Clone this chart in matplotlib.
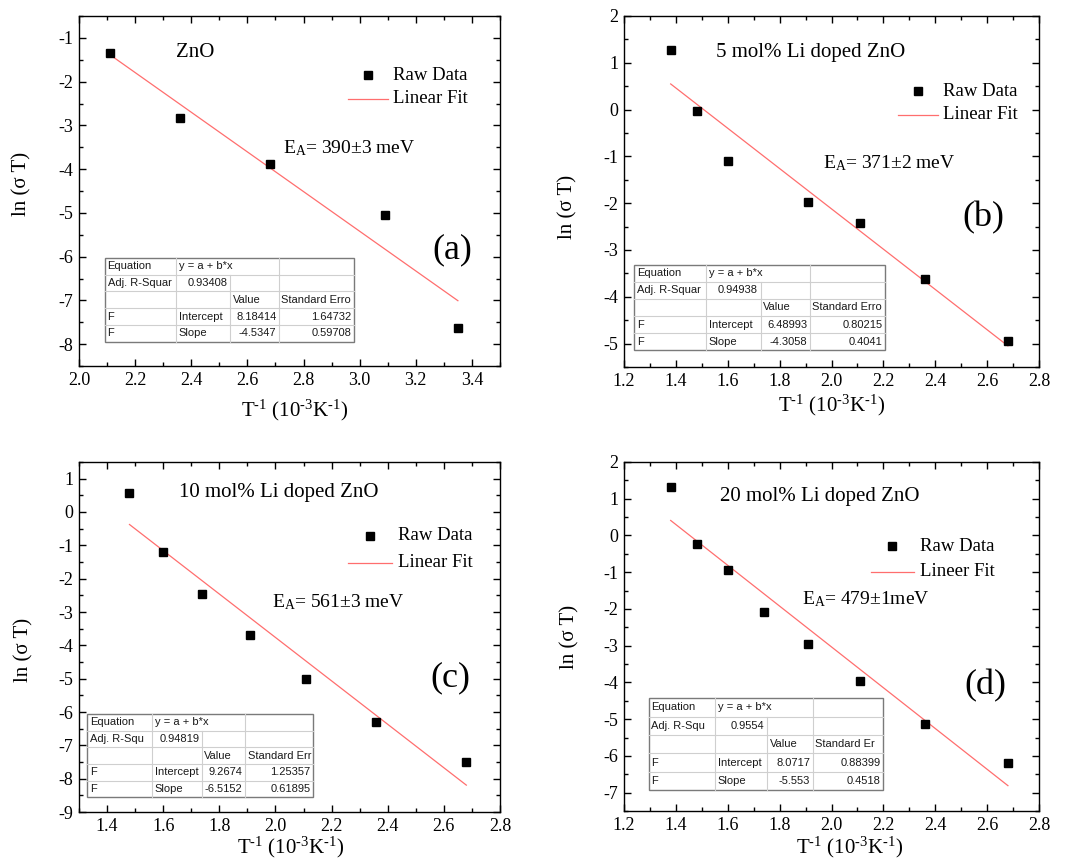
import matplotlib
matplotlib.use('Agg')
import matplotlib.pyplot as plt
from matplotlib.ticker import MultipleLocator, FormatStrFormatter
from matplotlib.patches import Rectangle

plt.rcParams['font.family'] = ['Liberation Serif', 'DejaVu Serif']
plt.rcParams['mathtext.fontset'] = 'custom'
plt.rcParams['mathtext.rm'] = 'Liberation Serif'
plt.rcParams['mathtext.it'] = 'Liberation Serif:italic'
plt.rcParams['mathtext.bf'] = 'Liberation Serif:bold'
plt.rcParams['axes.unicode_minus'] = False

# ---------------- data ----------------
x_a = [2.11, 2.36, 2.68, 3.09, 3.35]
y_a = [-1.34, -2.82, -3.88, -5.04, -7.63]

x_b = [1.38, 1.48, 1.60, 1.91, 2.11, 2.36, 2.68]
y_b = [1.27, -0.04, -1.10, -1.98, -2.43, -3.63, -4.94]

x_c = [1.48, 1.60, 1.74, 1.91, 2.11, 2.36, 2.68]
y_c = [0.57, -1.20, -2.47, -3.70, -5.00, -6.31, -7.50]

x_d = [1.38, 1.48, 1.60, 1.74, 1.91, 2.11, 2.36, 2.68]
y_d = [1.32, -0.24, -0.95, -2.09, -2.95, -3.96, -5.12, -6.20]

titles = ['ZnO', '5 mol% Li doped ZnO', '10 mol% Li doped ZnO', '20 mol% Li doped ZnO']
ea_values = ['390±3 meV', '371±2 meV', '561±3 meV', '479±1meV']
panel_labels = ['(a)', '(b)', '(c)', '(d)']
fit_labels = ['Linear Fit', 'Linear Fit', 'Linear Fit', 'Lineer Fit']

intercepts = [8.18414, 6.48993, 9.2674, 8.0717]
intercept_errs = ['1.64732', '0.80215', '1.25357', '0.88399']
slopes = [-4.5347, -4.3058, -6.5152, -5.553]
slope_errs = ['0.59708', '0.4041', '0.61895', '0.4518']
adj_r2 = ['0.93408', '0.94938', '0.94819', '0.9554']
r2_headers = ['Adj. R-Squar', 'Adj. R-Squar', 'Adj. R-Squ', 'Adj. R-Squ']
se_headers = ['Standard Erro', 'Standard Erro', 'Standard Err', 'Standard Er']

xlims = [(2.0, 3.5), (1.2, 2.8), (1.3, 2.8), (1.2, 2.8)]
ylims = [(-8.5, -0.5), (-5.5, 2.0), (-9.0, 1.5), (-7.5, 2.0)]

xs = [x_a, x_b, x_c, x_d]
ys = [y_a, y_b, y_c, y_d]

# ---------------- layout (axes fractions) ----------------
axes_rects = [
    [0.0740, 0.5744, 0.3946, 0.4070],
    [0.5848, 0.5733, 0.3890, 0.4081],
    [0.0740, 0.0558, 0.3946, 0.4070],
    [0.5848, 0.0570, 0.3890, 0.4058],
]
legend_pos = [  # marker x, marker y, line x0, line x1, line y, text x
    (0.686, 0.831, 0.639, 0.734, 0.763, 0.746),
    (0.708, 0.786, 0.660, 0.757, 0.718, 0.769),
    (0.691, 0.789, 0.639, 0.743, 0.712, 0.758),
    (0.646, 0.759, 0.595, 0.699, 0.686, 0.713),
]
title_pos = [(0.230, 0.897), (0.222, 0.897), (0.2375, 0.914), (0.231, 0.900)]
ea_pos = [(0.485, 0.623), (0.480, 0.581), (0.458, 0.600), (0.429, 0.607)]
plabel_pos = [(0.886, 0.331), (0.867, 0.425), (0.881, 0.383), (0.870, 0.358)]
ylabel_pos = [(-0.112, 0.52), (-0.111, 0.456), (-0.109, 0.463), (-0.108, 0.499)]
xlabel_pos = [(0.513, -0.091), (0.5, -0.074), (0.503, -0.066), (0.545, -0.068)]
table_geom = [  # column edges, top, bottom
    ([0.062, 0.231, 0.359, 0.475, 0.653], 0.309, 0.069),
    ([0.025, 0.198, 0.329, 0.448, 0.629], 0.291, 0.048),
    ([0.0197, 0.174, 0.292, 0.395, 0.556], 0.280, 0.042),
    ([0.060, 0.220, 0.345, 0.455, 0.624], 0.323, 0.060),
]

fit_color = '#ff6e6e'
xlabel_text = r'T$^{\text{-1}}$ (10$^{\text{-3}}$K$^{\text{-1}}$)'


def draw_table(ax, xe, yt, yb, cells):
    n = 5
    rh = (yt - yb) / n
    tr = ax.transAxes
    ax.add_patch(Rectangle((xe[0], yb), xe[-1] - xe[0], yt - yb, transform=tr,
                           facecolor='white', edgecolor='#7a7a7a', lw=1.0,
                           zorder=5, clip_on=False))
    for i in range(1, n):
        y = yt - i * rh
        ax.plot([xe[0], xe[-1]], [y, y], transform=tr, color='#cfcfcf',
                lw=0.8, zorder=6, clip_on=False)
    for r in range(n):
        y1 = yt - r * rh
        y0 = y1 - rh
        cols = [1, 3] if r == 0 else [1, 2, 3]
        for c in cols:
            ax.plot([xe[c], xe[c]], [y0, y1], transform=tr, color='#cfcfcf',
                    lw=0.8, zorder=6, clip_on=False)
    pad = 0.006
    for (txt, r, c, al) in cells:
        yc = yt - (r + 0.5) * rh
        if al == 'l':
            xx, ha = xe[c] + pad, 'left'
        else:
            xx, ha = xe[c + 1] - pad, 'right'
        ax.text(xx, yc, txt, transform=tr, ha=ha, va='center',
                fontsize=8, family=['Liberation Sans', 'DejaVu Sans'],
                color='#1a1a1a', zorder=7)


fig = plt.figure(figsize=(10.67, 8.6), dpi=100)

for i in range(4):
    ax = fig.add_axes(axes_rects[i])
    x = xs[i]
    y = ys[i]
    ax.plot(x, y, 's', color='black', markersize=5.8, zorder=3, clip_on=False)
    fx = [x[0], x[-1]]
    fy = [intercepts[i] + slopes[i] * v for v in fx]
    ax.plot(fx, fy, '-', color=fit_color, lw=0.9, zorder=2)

    ax.set_xlim(*xlims[i])
    ax.set_ylim(*ylims[i])
    ax.xaxis.set_major_locator(MultipleLocator(0.2))
    ax.xaxis.set_minor_locator(MultipleLocator(0.1))
    ax.yaxis.set_major_locator(MultipleLocator(1))
    ax.yaxis.set_minor_locator(MultipleLocator(0.5))
    ax.xaxis.set_major_formatter(FormatStrFormatter('%.1f'))
    ax.yaxis.set_major_formatter(FormatStrFormatter('%d'))
    ax.tick_params(which='both', direction='in', top=True, right=True,
                   width=1.0, labelsize=13, pad=4)
    ax.tick_params(which='major', length=5)
    ax.tick_params(which='minor', length=3)
    for s in ax.spines.values():
        s.set_linewidth(1.0)

    ax.set_ylabel('ln (σ T)', fontsize=15)
    ax.yaxis.set_label_coords(*ylabel_pos[i])
    ax.set_xlabel(xlabel_text, fontsize=15)
    ax.xaxis.set_label_coords(*xlabel_pos[i])

    # legend (manual)
    mx, my, lx0, lx1, ly, tx = legend_pos[i]
    ax.plot([mx], [my], 's', color='black', markersize=5.8,
            transform=ax.transAxes, clip_on=False)
    ax.plot([lx0, lx1], [ly, ly], '-', color=fit_color, lw=0.9,
            transform=ax.transAxes, clip_on=False)
    ax.text(tx, my, 'Raw Data', transform=ax.transAxes, fontsize=13.5,
            ha='left', va='center')
    ax.text(tx, ly, fit_labels[i], transform=ax.transAxes, fontsize=13.5,
            ha='left', va='center')

    ax.text(*title_pos[i], titles[i], transform=ax.transAxes, fontsize=15,
            ha='left', va='center')
    ax.text(*ea_pos[i], r'E$_{\rm A}$= ' + ea_values[i], transform=ax.transAxes,
            fontsize=14, ha='left', va='center')
    ax.text(*plabel_pos[i], panel_labels[i], transform=ax.transAxes,
            fontsize=26, ha='center', va='center')

    cells = [
        ('Equation', 0, 0, 'l'), ('y = a + b*x', 0, 1, 'l'),
        (r2_headers[i], 1, 0, 'l'), (adj_r2[i], 1, 1, 'r'),
        ('Value', 2, 2, 'l'), (se_headers[i], 2, 3, 'l'),
        ('F', 3, 0, 'l'), ('Intercept', 3, 1, 'l'),
        (str(intercepts[i]), 3, 2, 'r'), (intercept_errs[i], 3, 3, 'r'),
        ('F', 4, 0, 'l'), ('Slope', 4, 1, 'l'),
        (str(slopes[i]), 4, 2, 'r'), (slope_errs[i], 4, 3, 'r'),
    ]
    xe, yt, yb = table_geom[i]
    draw_table(ax, xe, yt, yb, cells)

fig.savefig('out.png', dpi=100)
